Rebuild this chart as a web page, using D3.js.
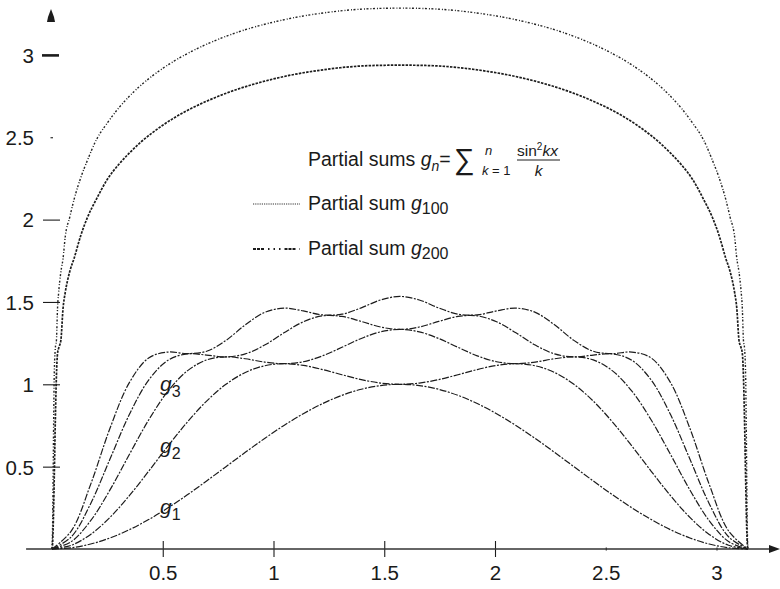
<!DOCTYPE html>
<html><head><meta charset="utf-8">
<script src="https://cdn.jsdelivr.net/npm/d3@7"></script>
<style>
body{margin:0;background:#fff}
svg{display:block}
text{font-family:"Liberation Sans",Arial,Helvetica,sans-serif;fill:#1a1a1a}
</style>
</head><body>
<svg id="c" width="780" height="589"></svg>
<script>
// ---- data ----
const xTicks = [0.5, 1, 1.5, 2, 2.5, 3];
const yTicks = [0.5, 1, 1.5, 2, 2.5, 3];

// sample abscissae for the low-order partial sums (radians)
const xSmall = [0,0.0873,0.1745,0.2618,0.3491,0.4363,0.5236,0.6109,0.6981,0.7854,0.8727,0.9599,1.0472,1.1345,1.2217,1.3090,1.3963,1.4835,1.5708,1.6581,1.7453,1.8326,1.9199,2.0071,2.0944,2.1817,2.2689,2.3562,2.4435,2.5307,2.6180,2.7053,2.7925,2.8798,2.9671,3.0543,3.1416];
const g1 = [0,0.0076,0.0302,0.0670,0.1170,0.1786,0.2500,0.3290,0.4132,0.5000,0.5868,0.6710,0.7500,0.8214,0.8830,0.9330,0.9698,0.9924,1.0000,0.9924,0.9698,0.9330,0.8830,0.8214,0.7500,0.6710,0.5868,0.5000,0.4132,0.3290,0.2500,0.1786,0.1170,0.0670,0.0302,0.0076,0];
const g2 = [0,0.0227,0.0886,0.1920,0.3236,0.4720,0.6250,0.7705,0.8981,1.0000,1.0717,1.1125,1.1250,1.1148,1.0896,1.0580,1.0283,1.0075,1.0000,1.0075,1.0283,1.0580,1.0896,1.1148,1.1250,1.1125,1.0717,1.0000,0.8981,0.7705,0.6250,0.4720,0.3236,0.1920,0.0886,0.0227,0];
const g3 = [0,0.0450,0.1720,0.3587,0.5736,0.7830,0.9583,1.0815,1.1481,1.1667,1.1551,1.1349,1.1250,1.1371,1.1729,1.2247,1.2783,1.3185,1.3333,1.3185,1.2783,1.2247,1.1729,1.1371,1.1250,1.1349,1.1551,1.1667,1.1481,1.0815,0.9583,0.7830,0.5736,0.3587,0.1720,0.0450,0];
const g4 = [0,0.0742,0.2753,0.5462,0.8160,1.0255,1.1458,1.1848,1.1773,1.1667,1.1843,1.2381,1.3125,1.3796,1.4154,1.4122,1.3816,1.3477,1.3333,1.3477,1.3816,1.4122,1.4154,1.3796,1.3125,1.2381,1.1843,1.1667,1.1773,1.1848,1.1458,1.0255,0.8160,0.5462,0.2753,0.0742,0];
const g5 = [0,0.1100,0.3926,0.7328,1.0100,1.1597,1.1958,1.1863,1.2007,1.2667,1.3609,1.4366,1.4625,1.4454,1.4214,1.4256,1.4643,1.5120,1.5333,1.5120,1.4643,1.4256,1.4214,1.4454,1.4625,1.4366,1.3609,1.2667,1.2007,1.1863,1.1958,1.1597,1.0100,0.7328,0.3926,0.1100,0];

// sample abscissae for the high-order partial sums (dense near the ends)
const xLarge = [0,0.0025,0.005,0.0075,0.01,0.015,0.02,0.025,0.03,0.04,0.05,0.06,0.08,0.1,0.13,0.16,0.2,0.25,0.3,0.35,0.4,0.5,0.6,0.7,0.8,0.9,1.0,1.1,1.2,1.3,1.4,1.5,1.5708,
  1.6416,1.7416,1.8416,1.9416,2.0416,2.1416,2.2416,2.3416,2.4416,2.5416,2.6416,2.7416,2.7916,2.8416,2.8916,2.9416,2.9816,3.0116,3.0416,3.0616,3.0816,3.0916,3.1016,3.1116,3.1166,3.1216,3.1266,3.1316,3.1341,3.1366,3.1391,3.1416];
const g100 = [0,0.031,0.120,0.256,0.424,0.778,1.052,1.188,1.219,1.267,1.463,1.559,1.684,1.766,1.904,2.013,2.123,2.245,2.333,2.405,2.469,2.573,2.655,2.720,2.774,2.818,2.854,2.883,2.905,2.922,2.933,2.937,2.938,
  2.937,2.933,2.922,2.905,2.883,2.854,2.818,2.774,2.720,2.655,2.573,2.469,2.405,2.333,2.245,2.123,2.013,1.904,1.766,1.684,1.559,1.463,1.267,1.219,1.188,1.052,0.778,0.424,0.256,0.120,0.031,0];
const g200 = [0,0.120,0.424,0.778,1.052,1.219,1.267,1.463,1.556,1.682,1.765,1.898,2.014,2.124,2.255,2.360,2.484,2.587,2.676,2.750,2.814,2.918,3.000,3.066,3.120,3.164,3.199,3.228,3.250,3.267,3.278,3.283,3.284,
  3.283,3.278,3.267,3.250,3.228,3.199,3.164,3.120,3.066,3.000,2.918,2.814,2.750,2.676,2.587,2.484,2.360,2.255,2.124,2.014,1.898,1.765,1.682,1.556,1.463,1.267,1.219,1.052,0.778,0.424,0.120,0];

// ---- drawing ----
const svg = d3.select("#c");
const x = d3.scaleLinear().domain([0, Math.PI]).range([52, 52 + Math.PI * 221.5]);
const y = d3.scaleLinear().domain([0, 3]).range([549, 549 - 3 * 164.7]);
const ink = "#1c1c1c";

// x axis
const xa = svg.append("g").attr("transform", `translate(0,${y(0)})`)
  .call(d3.axisBottom(x).tickValues(xTicks).tickFormat(d => String(d)).tickSize(8));
xa.select(".domain").remove();
xa.selectAll(".tick line")
  .attr("y1", d => d >= 2.5 ? -1.5 : -8)
  .attr("y2", d => d >= 2.5 ? 1.5 : 8)
  .attr("stroke", ink).attr("stroke-width", 1.1);
xa.selectAll(".tick text").attr("y", 31).attr("dy", 0)
  .style("font-size", "20.5px").attr("fill", ink);
svg.append("line").attr("x1", x(-0.117)).attr("x2", x(3.24))
  .attr("y1", y(0)).attr("y2", y(0)).attr("stroke", "#333").attr("stroke-width", 1.3);
svg.append("path")
  .attr("d", `M${x(3.237)},${y(0) - 4} L${x(3.237) + 11},${y(0)} L${x(3.237)},${y(0) + 4} Z`)
  .attr("fill", ink);

// y axis
const ya = svg.append("g").attr("transform", `translate(${x(0)},0)`)
  .call(d3.axisLeft(y).tickValues(yTicks).tickFormat(d => String(d)).tickSize(8));
ya.select(".domain").remove();
ya.selectAll(".tick line")
  .attr("x1", d => d === 3 ? -10 : d === 2.5 ? -1.5 : -9)
  .attr("x2", d => d === 3 ? 7 : d === 2.5 ? 1 : 8)
  .attr("stroke", ink)
  .attr("stroke-width", d => d === 3 ? 2.6 : 1.1);
ya.selectAll(".tick text").attr("x", -18).attr("dy", "0.36em")
  .style("font-size", "20.5px").attr("fill", ink);
svg.append("path")
  .attr("d", `M${x(0) - 1},9 L${x(0) + 2},17 L${x(0) + 3},22 L${x(0) - 5},22 L${x(0) - 4},17 Z`)
  .attr("fill", ink);

// curves
const smooth = (vals) => d3.line().x((d, i) => x(xSmall[i])).y(d => y(d)).curve(d3.curveCatmullRom)(vals);
const rough = (vals) => d3.line().x((d, i) => x(xLarge[i])).y(d => y(d)).curve(d3.curveMonotoneX)(vals);

[g1, g2, g3, g4, g5].forEach(s => {
  svg.append("path").attr("d", smooth(s)).attr("fill", "none")
    .attr("stroke", ink).attr("stroke-width", 1.2)
    .attr("stroke-dasharray", "7,1.5,2,1.5");
});
svg.append("path").attr("d", rough(g100)).attr("fill", "none")
  .attr("stroke", ink).attr("stroke-width", 1.7).attr("stroke-dasharray", "2.5,1.2");
svg.append("path").attr("d", rough(g200)).attr("fill", "none")
  .attr("stroke", "#222").attr("stroke-width", 1.4).attr("stroke-dasharray", "2,2,1,1.5");

// curve labels
function gLabel(px, py, sub) {
  const t = svg.append("text").attr("x", px).attr("y", py).style("font-size", "21px");
  t.append("tspan").text("g").style("font-style", "italic");
  t.append("tspan").text(sub).attr("dy", 6).style("font-size", "16px");
}
gLabel(160, 391, "3");
gLabel(160, 453, "2");
gLabel(160, 514, "1");

// legend / formula
const t1 = svg.append("text").attr("x", 308).attr("y", 166).style("font-size", "19.5px");
t1.append("tspan").text("Partial sums ");
t1.append("tspan").text("g").style("font-style", "italic");
t1.append("tspan").text("n").style("font-style", "italic").style("font-size", "14px").attr("dy", 5);
t1.append("tspan").text("=").attr("dy", -5);
svg.append("text").attr("x", 454).attr("y", 169).style("font-size", "29px").text("\u2211");
svg.append("text").attr("x", 485).attr("y", 155).style("font-size", "13px").style("font-style", "italic").text("n");
const sb = svg.append("text").attr("x", 482).attr("y", 175).style("font-size", "13px");
sb.append("tspan").text("k").style("font-style", "italic");
sb.append("tspan").text(" = 1");
const num = svg.append("text").attr("x", 517).attr("y", 156).style("font-size", "15.5px");
num.append("tspan").text("sin");
num.append("tspan").text("2").style("font-size", "10px").attr("dy", -6);
num.append("tspan").text("kx").style("font-style", "italic").attr("dy", 6);
svg.append("line").attr("x1", 517).attr("x2", 560).attr("y1", 160).attr("y2", 160)
  .attr("stroke", ink).attr("stroke-width", 1);
svg.append("text").attr("x", 538.5).attr("y", 176).attr("text-anchor", "middle")
  .style("font-size", "15.5px").style("font-style", "italic").text("k");

function legendRow(py, sub, dash, w) {
  svg.append("line").attr("x1", 253).attr("x2", 300).attr("y1", py - 6).attr("y2", py - 6)
    .attr("stroke", ink).attr("stroke-width", w).attr("stroke-dasharray", dash);
  const t = svg.append("text").attr("x", 308).attr("y", py).style("font-size", "19.5px");
  t.append("tspan").text("Partial sum ");
  t.append("tspan").text("g").style("font-style", "italic");
  t.append("tspan").text(sub).attr("dy", 4).style("font-size", "16px");
}
legendRow(210, "100", "1.2,1", 0.9);
legendRow(255, "200", "3,1,3,1,3,4,1.5,4,1.5,4,1.5,4", 1.8);
</script>
</body></html>
